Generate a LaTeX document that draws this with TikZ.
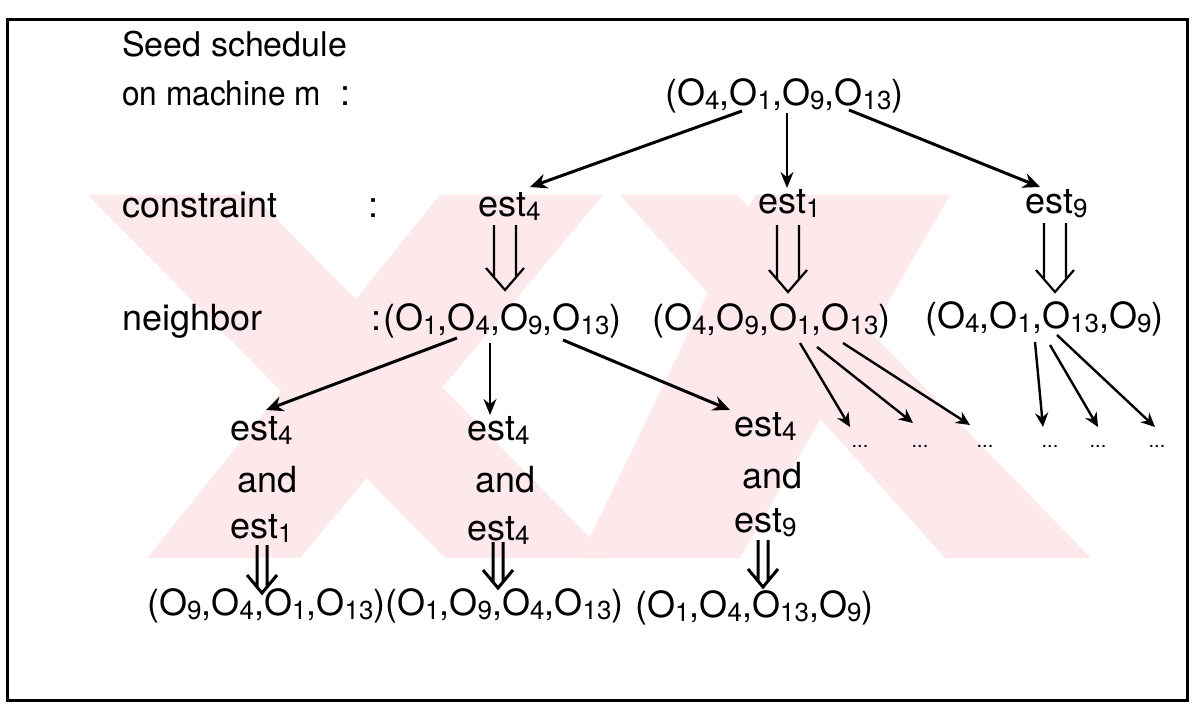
\documentclass[tikz,border=0pt]{standalone}
\usepackage{fontspec}
\setmainfont{TeX Gyre Heros}
\usetikzlibrary{arrows.meta,calc}
\definecolor{wm}{RGB}{253,232,236}
\newcommand\ix[1]{\raisebox{-4pt}{\fontsize{26pt}{26pt}\selectfont #1}}
% style, start, tip, half gap, head half width, head height
\newcommand\dblarr[6]{%
  \draw[#1] ($(#2)+(-#4,0)$) -- ($(#3)+(-#4,{-#6*#4/#5})$)
            ($(#2)+(#4,0)$) -- ($(#3)+(#4,{-#6*#4/#5})$)
            ($(#3)+(-#5,-#6)$) -- (#3) -- ($(#3)+(#5,-#6)$);}
\begin{document}
\begin{tikzpicture}[x=1pt,y=-1pt,
  txt/.style={anchor=base west, inner sep=0pt, font=\fontsize{36pt}{40pt}\selectfont},
  head/.style={anchor=base west, inner sep=0pt, font=\fontsize{34pt}{38pt}\selectfont},
  dotsn/.style={anchor=base, inner sep=0pt, font=\fontsize{20pt}{20pt}\selectfont},
  arr/.style={line width=3pt, -{Stealth[length=17pt,width=15pt]}},
  arrthin/.style={line width=2.2pt, -{Stealth[length=16pt,width=13pt]}},
  arrsmall/.style={line width=2.4pt, -{Stealth[length=14pt,width=13pt]}},
  bigdbl/.style={line width=2.2pt, line join=miter},
  smalldbl/.style={line width=3pt, line join=miter},
  frame/.style={line width=3pt}]
\useasboundingbox (0,0) rectangle (1192,706);
% watermark
\begin{scope}
  \clip (0,195) rectangle (1192,558);
  \fill[wm] (88,195) -- (253,195) -- (610,558) -- (445,558) -- cycle;
  \fill[wm] (440,195) -- (603,195) -- (300,558) -- (147,558) -- cycle;
  \fill[wm] (620,195) -- (737,195) -- (1091,558) -- (945,558) -- cycle;
  \fill[wm] (755,195) -- (950,195) -- (740,558) -- (580,558) -- cycle;
\end{scope}
% frame
\draw[frame] (7,20) rectangle (1187,700);
% labels
\node[head] (seed) at (122,57) {Seed schedule};
\node[head] (mach) at (122,106) {\scalebox{0.93}[1]{on machine m}};
\node[txt] (col1) at (340,106) {:};
\node[txt] (cons) at (122,217) {constraint};
\node[txt] (col2) at (368,217) {:};
\node[txt] (neigh) at (122,330) {neighbor};
\node[txt] (col3) at (371,330) {:};
% tree
\node[txt] (root) at (665,106) {(O\ix{4},O\ix{1},O\ix{9},O\ix{13})};
\node[txt] (e4) at (478,216) {est\ix{4}};
\node[txt] (e1) at (758,214) {est\ix{1}};
\node[txt] (e9) at (1025,213) {est\ix{9}};
\node[txt] (n1) at (383,330) {(O\ix{1},O\ix{4},O\ix{9},O\ix{13})};
\node[txt] (n2) at (652,330) {(O\ix{4},O\ix{9},O\ix{1},O\ix{13})};
\node[txt] (n3) at (925,328) {(O\ix{4},O\ix{1},O\ix{13},O\ix{9})};
\node[txt] (r4a) at (230,440) {est\ix{4}};
\node[txt] (r4b) at (467,440) {est\ix{4}};
\node[txt] (r4c) at (734,436) {est\ix{4}};
\node[txt] (anda) at (237,492) {and};
\node[txt] (andb) at (475,492) {and};
\node[txt] (andc) at (742,488) {and};
\node[txt] (ra) at (230,538) {est\ix{1}};
\node[txt] (rb) at (467,540) {est\ix{4}};
\node[txt] (rc) at (734,532) {est\ix{9}};
\node[txt] (ba) at (147,615) {(O\ix{9},O\ix{4},O\ix{1},O\ix{13})};
\node[txt] (bb) at (385,615) {(O\ix{1},O\ix{9},O\ix{4},O\ix{13})};
\node[txt] (bc) at (635,617) {(O\ix{1},O\ix{4},O\ix{13},O\ix{9})};
\node[dotsn] (d1) at (860,447) {...};
\node[dotsn] (d2) at (920,447) {...};
\node[dotsn] (d3) at (985,447) {...};
\node[dotsn] (d4) at (1050,447) {...};
\node[dotsn] (d5) at (1098,447) {...};
\node[dotsn] (d6) at (1157,447) {...};
% root arrows
\draw[arr] ($(root.base west)+(77,5)$) -- ($(e4.base west)+(52,-29)$);
\draw[arrthin] ($(root.base west)+(122,7)$) -- ($(e1.base west)+(29,-26)$);
\draw[arr] ($(root.base west)+(184,4)$) -- ($(e9.base west)+(15,-26)$);
% constraint -> neighbor double arrows
\coordinate (s1) at ($(e4.base west)+(27,9)$);
\coordinate (t1) at ($(n1.base west)+(122,-40)$);
\coordinate (s2) at ($(e1.base west)+(30,11)$);
\coordinate (t2) at ($(n2.base west)+(136,-38)$);
\coordinate (s3) at ($(e9.base west)+(30,10)$);
\coordinate (t3) at ($(n3.base west)+(130,-36)$);
\dblarr{bigdbl}{s1}{t1}{11}{19}{22}
\dblarr{bigdbl}{s2}{t2}{11}{19}{22}
\dblarr{bigdbl}{s3}{t3}{11}{19}{22}
% neighbor 1 arrows
\draw[arr] ($(n1.base west)+(74,8)$) -- ($(r4a.base west)+(36,-30)$);
\draw[arrthin] ($(n1.base west)+(107,13)$) -- ($(r4b.base west)+(23,-25)$);
\draw[arr] ($(n1.base west)+(180,10)$) -- ($(r4c.base west)+(-4,-26)$);
% neighbor 2 arrows
\draw[arrsmall] ($(n2.base west)+(148,13)$) -- ($(d1.base)+(-10,-20)$);
\draw[arrsmall] ($(n2.base west)+(165,17)$) -- ($(d2.base)+(-7,-24)$);
\draw[arrsmall] ($(n2.base west)+(191,13)$) -- ($(d3.base)+(-15,-22)$);
% neighbor 3 arrows
\draw[arrsmall] ($(n3.base west)+(110,14)$) -- ($(d4.base)+(-7,-20)$);
\draw[arrsmall] ($(n3.base west)+(125,17)$) -- ($(d5.base)+(0,-20)$);
\draw[arrsmall] ($(n3.base west)+(132,7)$) -- ($(d6.base)+(-2,-20)$);
% bottom double arrows
\coordinate (s4) at ($(ra.base west)+(32,7)$);
\coordinate (t4) at ($(ba.base west)+(115,-22)$);
\coordinate (s5) at ($(rb.base west)+(31,2)$);
\coordinate (t5) at ($(bb.base west)+(113,-27)$);
\coordinate (s6) at ($(rc.base west)+(29,8)$);
\coordinate (t6) at ($(bc.base west)+(128,-30)$);
\dblarr{smalldbl}{s4}{t4}{5}{15}{18}
\dblarr{smalldbl}{s5}{t5}{5}{15}{18}
\dblarr{smalldbl}{s6}{t6}{5}{15}{18}
\end{tikzpicture}
\end{document}
